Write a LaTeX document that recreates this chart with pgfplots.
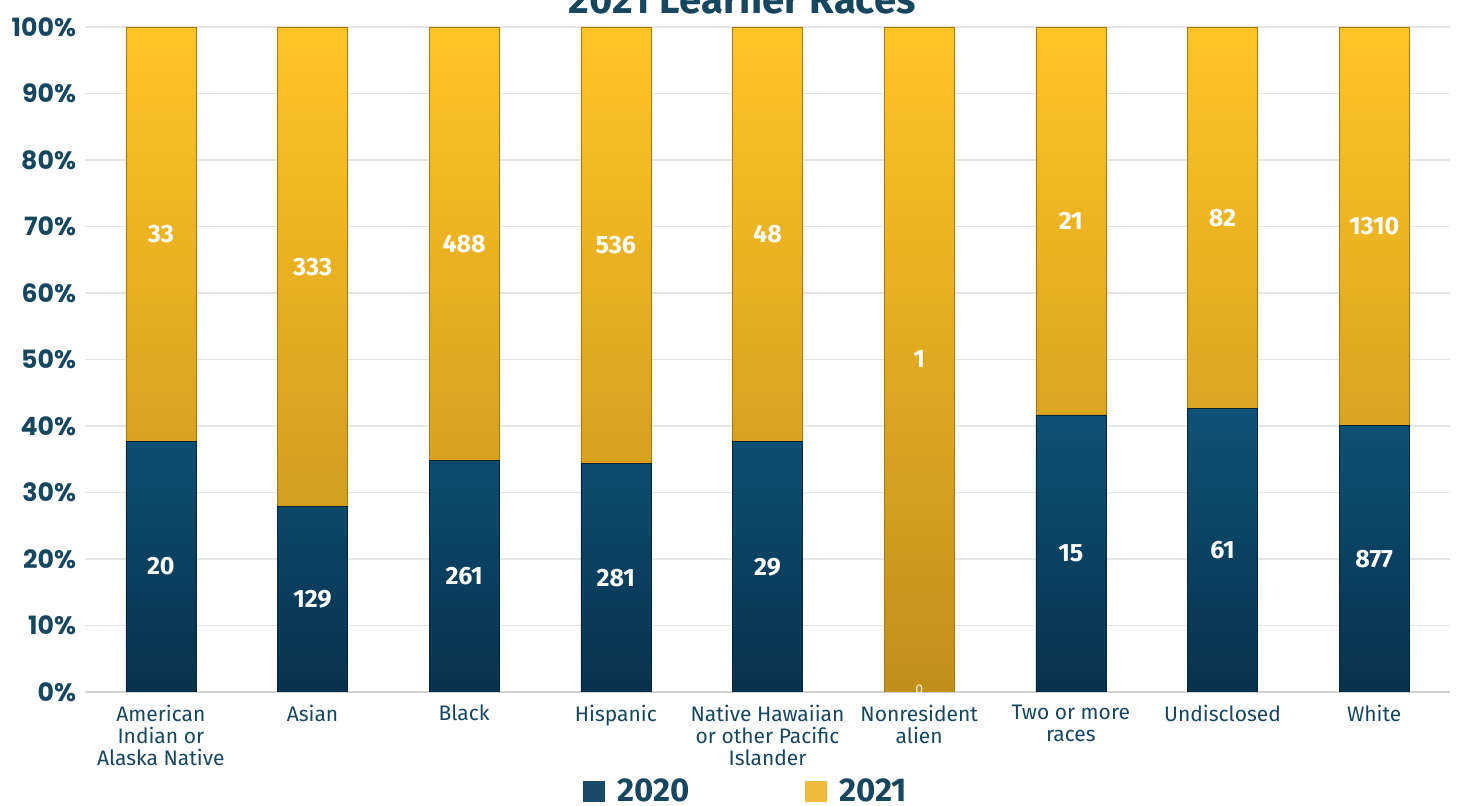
\documentclass[border=0pt]{standalone}
\usepackage{pgfplots}
\pgfplotsset{compat=1.18}
\usepackage{fontspec}
\setmainfont{Fira Sans}
\newfontfamily\tickfont{Poppins}
\definecolor{navy}{HTML}{17465F}
\definecolor{blueTop}{HTML}{0F5277}
\definecolor{blueBot}{HTML}{07324C}
\definecolor{yelTop}{HTML}{FFC425}
\definecolor{yelBot}{HTML}{C28E1C}
\definecolor{leg20}{HTML}{1B4A67}
\definecolor{leg21}{HTML}{F0BA3C}
\begin{document}
\begin{tikzpicture}
\pgfplotsset{
  common/.style={
    scale only axis, width=682.5pt, height=332.5pt,
    xmin=-0.5, xmax=8.5, ymin=0, ymax=100,
  }
}
\begin{axis}[common, at={(0,0)}, anchor=south west,
  ybar stacked, bar width=35pt,
  axis y line*=none, axis x line*=bottom,
  y axis line style={draw=none},
  x axis line style={draw=gray!35, line width=0.8pt, -},
  ymajorgrids, grid style={gray!20, line width=0.6pt},
  ytick={0,10,...,100}, major tick length=0pt,
  /pgf/number format/assume math mode=true,
  yticklabel={\pgfmathprintnumber{\tick}\%},
  yticklabel style={font=\tickfont\bfseries\fontsize{12.6}{12.6}\selectfont, text=navy, xshift=-1pt},
  xtick={0,...,8},
  xticklabels={American\\Indian or\\Alaska Native, Asian, Black, Hispanic, Native Hawaiian\\or other Pacific\\Islander, Nonresident\\alien, Two or more\\races, Undisclosed, White},
  xticklabel style={font=\fontsize{10.5}{11}\selectfont, text=navy, align=center, anchor=north, yshift=-3pt},
  legend columns=2,
  legend style={draw=none, at={(0.485,-0.150)}, anchor=center, font=\bfseries\fontsize{16.5}{18}\selectfont, text=navy,
    /tikz/every odd column/.append style={column sep=4pt},
    /tikz/every even column/.append style={column sep=56pt}},
  legend image code/.code={\fill[#1, draw=none] (0pt,-5.3pt) rectangle (11pt,5.3pt);},
]
\addplot[forget plot, draw=blueBot!70!black, line width=0.25pt, top color=blueTop, bottom color=blueBot] coordinates {
 (0,37.74) (1,27.92) (2,34.85) (3,34.39) (4,37.66) (5,0) (6,41.67) (7,42.66) (8,40.10)};
\addplot[forget plot, draw=yelBot!85!black, line width=0.25pt, top color=yelTop, bottom color=yelBot] coordinates {
 (0,62.26) (1,72.08) (2,65.15) (3,65.61) (4,62.34) (5,100) (6,58.33) (7,57.34) (8,59.90)};
\addlegendimage{fill=leg20, draw=none}
\addlegendentry{2020}
\addlegendimage{fill=leg21, draw=none}
\addlegendentry{2021}
\end{axis}
\begin{axis}[common, at={(0,0)}, anchor=south west, hide axis]
\addplot[only marks, mark=none, nodes near coords, point meta=explicit symbolic,
  nodes near coords style={anchor=center, text=white, font=\bfseries\fontsize{12.5}{13}\selectfont}] coordinates {
 (0,18.87) [20] (1,13.96) [129] (2,17.43) [261] (3,17.20) [281] (4,18.83) [29] (6,20.83) [15] (7,21.33) [61] (8,20.05) [877]
 (0,68.87) [33] (1,63.96) [333] (2,67.43) [488] (3,67.20) [536] (4,68.83) [48] (5,50.00) [1] (6,70.83) [21] (7,71.33) [82] (8,70.05) [1310]};
\addplot[only marks, mark=none, nodes near coords, point meta=explicit symbolic,
  nodes near coords style={anchor=center, text=white!85!yelTop, font=\fontsize{7}{7}\selectfont}] coordinates {
 (5,0.3) [0]};
\end{axis}
\node[anchor=base, text=navy, font=\bfseries\fontsize{20}{22}\selectfont] at (328.5pt,339pt) {2021 Learner Races};
\pgfresetboundingbox
\useasboundingbox (-42.5pt,-57pt) rectangle (686.5pt,346pt);
\end{tikzpicture}
\end{document}
